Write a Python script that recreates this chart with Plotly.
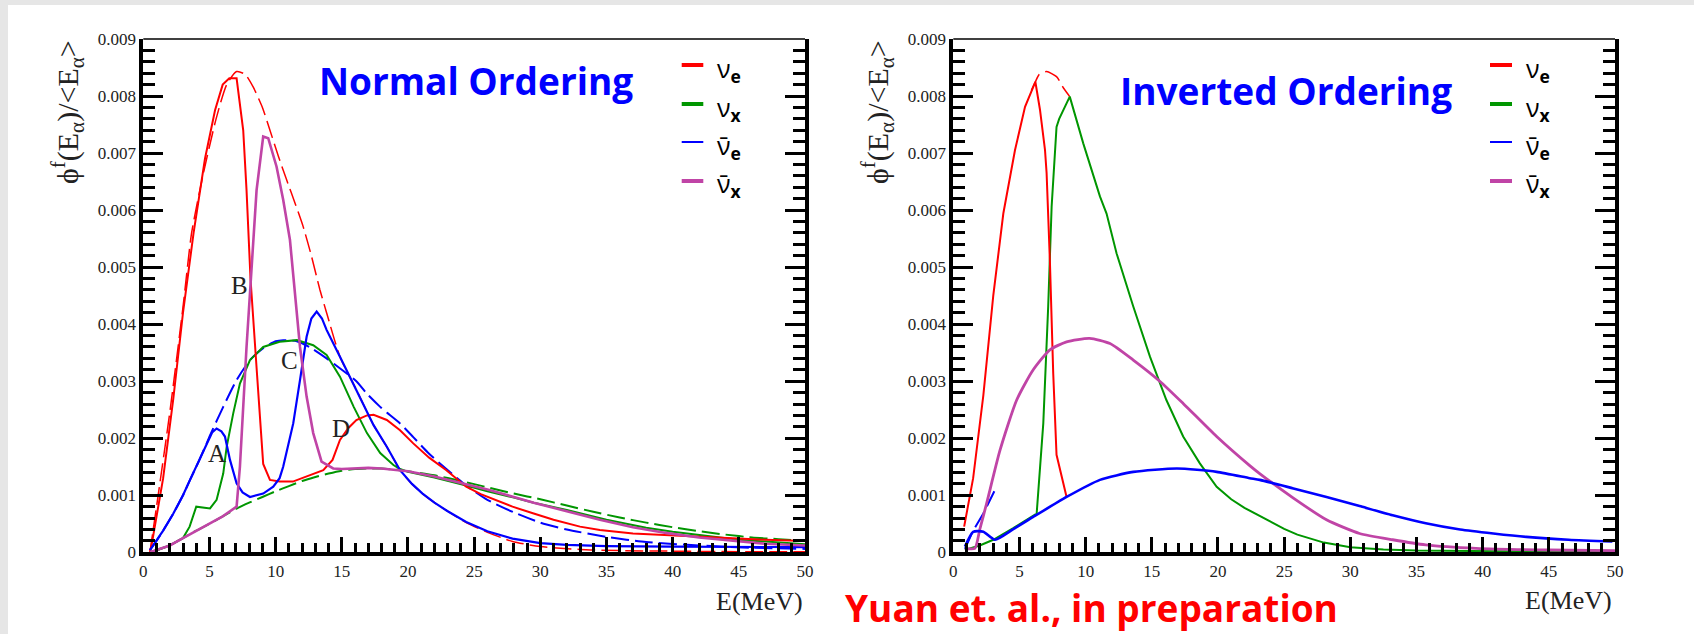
import plotly.graph_objects as go
import numpy as np

W, H = 1694, 634
S = 1e-3  # values below are in units of 0.001

# ---------------- Normal Ordering ----------------
no_nue_E = [0.5, 0.63, 1.5, 2.27, 3.0, 3.8, 4.66, 5.42, 6.0, 6.5, 7.05, 7.55, 7.8, 8.1, 8.6, 9.06, 9.57, 10.3, 11.3,
            12.34, 13.3, 13.6, 14.3, 14.86, 15.5, 16.1, 16.9, 17.4, 18.4, 19.4, 20.4, 21.6, 22.9, 24.4, 25.5, 27.9,
            29.5, 31.0, 33.0, 34.5, 37.0, 39.5, 42.0, 44.6, 47.0, 50.0]
no_nue_v = [0.0, 0.13, 1.3, 2.7, 4.2, 5.6, 6.9, 7.75, 8.2, 8.31, 8.31, 7.4, 6.35, 4.8, 3.1, 1.55, 1.27, 1.24, 1.24,
            1.33, 1.41, 1.44, 1.62, 1.97, 2.18, 2.32, 2.4, 2.41, 2.32, 2.14, 1.91, 1.66, 1.44, 1.15, 1.02, 0.8,
            0.68, 0.57, 0.45, 0.39, 0.33, 0.30, 0.27, 0.25, 0.22, 0.2]

no_nue0_E = [0.5, 1.0, 2.0, 3.0, 3.65, 4.5, 5.5, 6.3, 7.05, 7.7, 8.3, 9.0, 9.57, 10.2, 10.83, 11.5, 12.08, 12.7,
             13.35, 13.85, 14.86, 16.1, 17.4, 18.4, 19.4, 20.3, 21.1, 22.0, 23.0, 24.4, 26.0, 27.9, 30.0, 33.0,
             36.0, 40.0, 45.0, 50.0]
no_nue0_v = [0.0, 0.8, 2.45, 4.3, 5.6, 6.6, 7.6, 8.2, 8.43, 8.38, 8.16, 7.8, 7.4, 6.95, 6.53, 6.1, 5.71, 5.2,
             4.6, 4.2, 3.43, 2.85, 2.23, 1.85, 1.44, 1.2, 1.03, 0.87, 0.72, 0.52, 0.35, 0.19, 0.1, 0.05,
             0.03, 0.02, 0.01, 0.01]

no_nuebar_E = [0.5, 1.0, 1.5, 2.27, 3.0, 3.53, 4.2, 4.79, 5.2, 5.54, 5.9, 6.17, 6.55, 7.05, 7.5, 8.06, 9.06, 9.82,
               10.3, 10.57, 11.0, 11.33, 11.84, 12.34, 12.7, 13.1, 13.5, 13.85, 14.86, 16.1, 17.4, 18.4, 19.4,
               20.3, 21.1, 22.0, 23.0, 24.4, 26.0, 27.9, 30.0, 32.0, 35.0, 40.0, 45.0, 50.0]
no_nuebar_v = [0.04, 0.2, 0.38, 0.68, 1.0, 1.27, 1.6, 1.91, 2.1, 2.17, 2.12, 2.03, 1.62, 1.21, 1.05, 0.97, 1.03, 1.15,
               1.3, 1.5, 1.9, 2.26, 3.02, 3.78, 4.1, 4.22, 4.1, 3.9, 3.43, 2.85, 2.23, 1.85, 1.44,
               1.2, 1.03, 0.87, 0.72, 0.53, 0.37, 0.24, 0.16, 0.13, 0.11, 0.1, 0.09, 0.09]

no_nuebar0_E = [0.5, 1.0, 1.5, 2.27, 3.0, 3.53, 4.2, 4.79, 5.04, 6.04, 7.05, 8.06, 9.06, 10.0, 10.57, 11.6, 12.7,
                13.85, 15.0, 16.1, 16.9, 17.9, 18.4, 19.4, 20.4, 21.5, 22.9, 24.4, 26.0, 28.0, 30.0, 32.0, 35.0,
                38.0, 42.0, 46.0, 50.0]
no_nuebar0_v = [0.04, 0.2, 0.38, 0.68, 1.0, 1.27, 1.6, 1.91, 2.05, 2.55, 3.02, 3.37, 3.58, 3.7, 3.72, 3.7, 3.58,
                3.4, 3.2, 3.0, 2.78, 2.55, 2.45, 2.26, 2.02, 1.75, 1.46, 1.17, 0.92, 0.7, 0.52, 0.4, 0.27,
                0.18, 0.12, 0.08, 0.06]

no_nux_E = [0.5, 1.0, 2.0, 3.0, 3.5, 4.0, 5.04, 5.54, 6.04, 6.3, 6.8, 7.3, 8.06, 9.06, 10.3, 11.6, 12.84, 13.85,
            14.86, 15.9, 16.9, 17.9, 18.9, 19.4, 20.0, 22.0, 24.4, 26.0, 28.0, 29.5, 32.0, 35.0, 38.0, 40.0,
            45.0, 50.0]
no_nux_v = [0.0, 0.03, 0.12, 0.25, 0.45, 0.8, 0.77, 0.92, 1.38, 1.85, 2.44, 2.96, 3.37, 3.6, 3.69, 3.72, 3.63, 3.46,
            3.08, 2.55, 2.09, 1.74, 1.53, 1.46, 1.41, 1.31, 1.17, 1.07, 0.96, 0.87, 0.74, 0.57, 0.43, 0.36,
            0.22, 0.14]

no_nux0_E = [0.5, 2.0, 3.0, 4.0, 5.0, 6.0, 7.0, 8.0, 9.0, 10.0, 11.0, 12.0, 13.0, 14.0, 15.0, 16.0, 17.0, 18.0,
             19.0, 20.0, 22.0, 24.0, 26.0, 28.0, 30.0, 32.0, 34.0, 36.0, 38.0, 40.0, 42.0, 44.0, 46.0, 48.0, 50.0]
no_nux0_v = [0.0, 0.12, 0.25, 0.38, 0.5, 0.63, 0.76, 0.87, 0.97, 1.07, 1.16, 1.25, 1.32, 1.38, 1.43, 1.46, 1.47,
             1.47, 1.45, 1.42, 1.35, 1.25, 1.14, 1.03, 0.93, 0.82, 0.71, 0.61, 0.52, 0.44, 0.37, 0.31, 0.26,
             0.23, 0.2]

no_nuxbar_E = [0.5, 2.0, 3.0, 4.0, 5.0, 6.0, 7.05, 7.3, 7.8, 8.15, 8.56, 9.06, 9.44, 10.07, 10.57, 11.08, 11.4,
               11.84, 12.34, 12.84, 13.47, 14.35, 15.0, 16.0, 17.0, 18.0, 19.4, 20.0, 22.0, 24.4, 26.0, 28.0, 29.5,
               32.0, 34.5, 37.0, 39.5, 42.0, 44.6, 47.0, 50.0]
no_nuxbar_v = [0.0, 0.12, 0.25, 0.38, 0.5, 0.63, 0.8, 1.5, 3.6, 4.8, 6.35, 7.29, 7.26, 6.76, 6.18, 5.48, 4.7,
               3.6, 2.73, 2.09, 1.59, 1.47, 1.46, 1.47, 1.48, 1.47, 1.44, 1.42, 1.33, 1.2, 1.1, 0.97, 0.87,
               0.72, 0.57, 0.44, 0.34, 0.26, 0.2, 0.15, 0.12]

# ---------------- Inverted Ordering ----------------
io_nue_E = [0.82, 1.5, 2.27, 3.02, 3.78, 4.66, 5.42, 5.9, 6.2, 6.55, 6.93, 7.05, 7.3, 7.55, 7.8, 8.56]
io_nue_v = [0.45, 1.3, 2.75, 4.5, 5.94, 7.05, 7.81, 8.1, 8.25, 7.76, 7.05, 6.65, 5.1, 3.14, 1.71, 0.97]

io_nue0_E = [5.9, 6.2, 6.5, 7.05, 7.8, 8.3, 8.8]
io_nue0_v = [8.1, 8.25, 8.38, 8.43, 8.34, 8.15, 7.99]

io_nux_E = [0.88, 2.0, 3.02, 4.5, 6.3, 6.8, 7.17, 7.43, 7.8, 8.0, 8.8, 9.57, 9.82, 11.08, 11.58, 12.34, 13.6, 14.86,
            16.1, 17.37, 18.63, 19.9, 21.0, 22.0, 23.0, 24.0, 25.0, 26.0, 28.0, 30.0, 32.5, 35.0, 40.0, 45.0, 50.0]
io_nux_v = [0.04, 0.12, 0.22, 0.42, 0.68, 2.26, 4.31, 6.06, 7.46, 7.6, 7.99, 7.35, 7.17, 6.24, 5.94, 5.24, 4.31, 3.43,
            2.67, 2.03, 1.56, 1.15, 0.93, 0.78, 0.66, 0.53, 0.41, 0.31, 0.17, 0.09, 0.05, 0.03, 0.015, 0.01, 0.01]

io_nuebar_E = [0.88, 1.5, 2.27, 3.15, 4.5, 6.04, 8.56, 11.08, 13.6, 16.9, 19.9, 22.4, 23.15, 25.7, 28.2, 30.7,
               33.2, 35.7, 38.3, 40.8, 43.3, 46.5, 49.8]
io_nuebar_v = [0.1, 0.36, 0.36, 0.22, 0.4, 0.62, 0.97, 1.27, 1.41, 1.47, 1.41, 1.3, 1.27, 1.12, 0.97, 0.81,
               0.65, 0.51, 0.4, 0.33, 0.27, 0.22, 0.19]

io_nuebar0_E = [0.88, 1.5, 2.27, 2.9, 3.1]
io_nuebar0_v = [0.06, 0.38, 0.68, 0.97, 1.07]

io_nuxbar_E = [0.88, 1.63, 2.0, 2.52, 3.53, 4.79, 6.04, 7.3, 8.56, 10.3, 11.84, 13.6, 15.6, 17.37, 19.9, 22.4,
               23.15, 25.7, 28.2, 30.7, 33.2, 35.7, 39.5, 45.0, 50.0]
io_nuxbar_v = [0.07, 0.07, 0.4, 0.86, 1.79, 2.67, 3.2, 3.55, 3.69, 3.75, 3.66, 3.37, 3.0, 2.61, 2.03, 1.52,
               1.38, 0.95, 0.57, 0.33, 0.22, 0.13, 0.07, 0.04, 0.03]

x_ticks = [0, 5, 10, 15, 20, 25, 30, 35, 40, 45, 50]
y_ticks = [0, 0.001, 0.002, 0.003, 0.004, 0.005, 0.006, 0.007, 0.008, 0.009]
y_ticktext = ["0", "0.001", "0.002", "0.003", "0.004", "0.005", "0.006", "0.007", "0.008", "0.009"]

# region labels in the Normal Ordering panel: (text, E, value in 0.001)
letter_pos = [("A", 5.55, 1.73), ("B", 7.3, 4.68), ("C", 11.05, 3.36), ("D", 14.95, 2.17)]

RED, GREEN, BLUE, PINK = "#ff0000", "#009600", "#0000ff", "#c044a6"
DASH = "18px,6px"


def px(x):
    return x / W


def py(y):
    return 1 - y / H


fig = go.Figure()


def add(E, v, color, width, dash, xa, ya, shape="linear"):
    fig.add_trace(go.Scatter(x=E, y=np.array(v) * S, mode="lines",
                             line=dict(color=color, width=width, dash=dash, shape=shape, smoothing=0.6),
                             xaxis=xa, yaxis=ya, showlegend=False, hoverinfo="skip"))


# Normal ordering (left)
add(no_nux0_E, no_nux0_v, GREEN, 2, DASH, "x", "y", "spline")
add(no_nue0_E, no_nue0_v, RED, 1.5, DASH, "x", "y", "spline")
add(no_nuebar0_E, no_nuebar0_v, BLUE, 2, DASH, "x", "y", "spline")
add(no_nux_E, no_nux_v, GREEN, 2, "solid", "x", "y")
add(no_nue_E, no_nue_v, RED, 2, "solid", "x", "y")
add(no_nuebar_E, no_nuebar_v, BLUE, 2.2, "solid", "x", "y")
add(no_nuxbar_E, no_nuxbar_v, PINK, 2.6, "solid", "x", "y")

# Inverted ordering (right)
add(io_nue0_E, io_nue0_v, RED, 1.5, DASH, "x2", "y2", "spline")
add(io_nuebar0_E, io_nuebar0_v, BLUE, 2, DASH, "x2", "y2")
add(io_nux_E, io_nux_v, GREEN, 2, "solid", "x2", "y2")
add(io_nue_E, io_nue_v, RED, 2, "solid", "x2", "y2")
add(io_nuxbar_E, io_nuxbar_v, PINK, 2.8, "solid", "x2", "y2", "spline")
add(io_nuebar_E, io_nuebar_v, BLUE, 2.6, "solid", "x2", "y2", "spline")

tickfont = dict(family="Liberation Serif, Times New Roman, serif", size=17, color="#222")


def xaxis_cfg(x0, x1, anchor):
    return dict(domain=[px(x0), px(x1)], range=[0, 50], tickvals=x_ticks, showgrid=False, zeroline=False,
                anchor=anchor, automargin=False,
                showline=True, linewidth=4, linecolor="black", ticks="inside", ticklen=15, tickwidth=3,
                tickcolor="black", tickfont=tickfont,
                minor=dict(dtick=1, ticks="inside", ticklen=9, tickwidth=3, tickcolor="black", showgrid=False))


def yaxis_cfg(anchor):
    return dict(domain=[py(552.3), py(39)], range=[0, 0.009], tickvals=y_ticks, ticktext=y_ticktext,
                showgrid=False, zeroline=False, anchor=anchor, automargin=False,
                showline=True, linewidth=4, linecolor="black", mirror="ticks", ticks="inside", ticklen=20,
                tickwidth=3, tickcolor="black", tickfont=tickfont,
                minor=dict(dtick=0.0002, ticks="inside", ticklen=12, tickwidth=3, tickcolor="black",
                           showgrid=False))


LX0, LX1 = 143.3, 805.0
RX0, RX1 = 953.3, 1615.0
TOP = 39.0

shapes = [
    dict(type="rect", xref="paper", yref="paper", x0=px(8), x1=1.0, y0=0, y1=py(5), fillcolor="white",
         line=dict(width=0), layer="below"),
    dict(type="line", xref="paper", yref="paper", x0=px(LX0), x1=px(LX1), y0=py(TOP), y1=py(TOP),
         line=dict(color="black", width=1.5)),
    dict(type="line", xref="paper", yref="paper", x0=px(RX0), x1=px(RX1), y0=py(TOP), y1=py(TOP),
         line=dict(color="black", width=1.5)),
]

annotations = []

legend_rows = [(65, RED, 4, "ν<sub><b>e</b></sub>"), (104, GREEN, 4, "ν<sub><b>x</b></sub>"),
               (142, BLUE, 2, "ν̄<sub><b>e</b></sub>"), (181, PINK, 4, "ν̄<sub><b>x</b></sub>")]
for lx0, lx1, tx in [(681.7, 703.3, 715), (1490, 1512, 1524)]:
    for yy, col, w, txt in legend_rows:
        shapes.append(dict(type="line", xref="paper", yref="paper", x0=px(lx0), x1=px(lx1), y0=py(yy), y1=py(yy),
                           line=dict(color=col, width=w)))
        annotations.append(dict(x=px(tx), y=py(yy + 4), xref="paper", yref="paper", text=txt, showarrow=False,
                                xanchor="left", yanchor="middle",
                                font=dict(family="Open Sans", size=25, color="black")))

title_font = dict(family="Open Sans", size=37, color="#0000ff")
annotations += [
    dict(x=px(476), y=py(80), xref="paper", yref="paper", text="<b>Normal Ordering</b>", showarrow=False,
         xanchor="center", yanchor="middle", font=title_font),
    dict(x=px(1285.5), y=py(90), xref="paper", yref="paper", text="<b>Inverted Ordering</b>", showarrow=False,
         xanchor="center", yanchor="middle", font=title_font),
    dict(x=px(1091), y=py(607), xref="paper", yref="paper", text="<b>Yuan et. al., in preparation</b>",
         showarrow=False, xanchor="center", yanchor="middle",
         font=dict(family="Open Sans", size=37, color="#ff0000")),
    dict(x=px(805), y=py(601), xref="paper", yref="paper", text="E(MeV)", showarrow=False,
         xanchor="right", yanchor="middle",
         font=dict(family="Liberation Serif, serif", size=26, color="#222")),
    dict(x=px(1614), y=py(600), xref="paper", yref="paper", text="E(MeV)", showarrow=False,
         xanchor="right", yanchor="middle",
         font=dict(family="Liberation Serif, serif", size=26, color="#222")),
]

ylab = "ϕ<sup>f</sup>(E<sub>α</sub>)/&lt;E<sub>α</sub>&gt;"
for xc in [68, 878]:
    annotations.append(dict(x=px(xc), y=py(38), xref="paper", yref="paper", text=ylab, showarrow=False,
                            textangle=-90, xanchor="center", yanchor="top",
                            font=dict(family="Liberation Serif, serif", size=30, color="#222")))

letter_font = dict(family="Liberation Serif, serif", size=25, color="#222")
for t, ex, ey in letter_pos:
    annotations.append(dict(x=ex, y=ey * S, xref="x", yref="y", text=t, showarrow=False,
                            xanchor="center", yanchor="middle", font=letter_font))

fig.update_layout(
    width=W, height=H, autosize=False,
    margin=dict(l=0, r=0, t=0, b=0, pad=0, autoexpand=False),
    paper_bgcolor="#e6e6e6", plot_bgcolor="rgba(0,0,0,0)",
    xaxis=xaxis_cfg(LX0, LX1, "y"), yaxis=yaxis_cfg("x"),
    xaxis2=xaxis_cfg(RX0, RX1, "y2"), yaxis2=yaxis_cfg("x2"),
    shapes=shapes, annotations=annotations, showlegend=False,
)

fig.write_html("out.html", config={"displayModeBar": False},
               post_script="document.body.style.margin='0';document.body.style.overflow='hidden';"
                           "document.body.style.background='#e6e6e6';")
